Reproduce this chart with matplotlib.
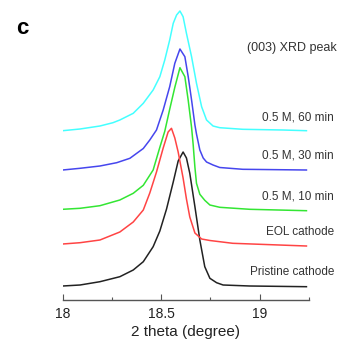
import matplotlib
matplotlib.use('Agg')
import matplotlib.pyplot as plt
from matplotlib.ticker import MultipleLocator

plt.rcParams['font.family'] = ['Liberation Sans', 'DejaVu Sans']

# intensities above each curve's own baseline (a.u.)
x_pristine = [18.000, 18.088, 18.189, 18.290, 18.358, 18.409, 18.459, 18.493, 18.527, 18.561,
              18.586, 18.611, 18.628, 18.645, 18.671, 18.696, 18.721, 18.747, 18.781, 18.814,
              18.949, 19.237]
y_pristine = [0, 1, 4.3, 9.3, 16, 24.3, 39.3, 55, 77, 104,
              125, 134, 128, 112.7, 79.3, 46, 19.3, 7.7, 3.3, 1,
              0, -0.7]

x_eol = [18.000, 18.088, 18.189, 18.290, 18.358, 18.409, 18.442, 18.476, 18.510, 18.535,
         18.552, 18.569, 18.586, 18.611, 18.628, 18.645, 18.671, 18.705, 18.747, 18.863,
         19.237]
y_eol = [0, 1.3, 4, 12, 22, 34, 51, 72, 96, 112,
         115.7, 106, 92, 66, 45, 27, 11, 5, 3.5, 0.7,
         -2]

x_10 = [18.000, 18.088, 18.189, 18.290, 18.358, 18.409, 18.459, 18.493, 18.518, 18.543,
        18.569, 18.595, 18.620, 18.637, 18.654, 18.662, 18.671, 18.679, 18.696, 18.721,
        18.747, 18.797, 18.949, 19.237]
y_10 = [0, 1, 3.6, 9.3, 16, 24, 39.3, 62, 78, 100,
        122, 141.6, 132.6, 109, 82, 65, 42, 26, 15, 9,
        4.3, 2, 0, -1.4]

x_30 = [18.000, 18.088, 18.189, 18.274, 18.341, 18.409, 18.442, 18.476, 18.510, 18.543,
        18.569, 18.595, 18.620, 18.637, 18.654, 18.671, 18.679, 18.696, 18.713, 18.730,
        18.763, 18.797, 18.914, 19.237]
y_30 = [0, 1.7, 4, 7.3, 11.7, 21.5, 30, 40, 60, 83.3,
        106.7, 121, 113.3, 93.3, 70, 45, 36, 20, 12, 8,
        5, 2.5, 0.7, 0]

x_60 = [18.000, 18.088, 18.189, 18.255, 18.290, 18.358, 18.409, 18.459, 18.493, 18.518,
        18.543, 18.561, 18.578, 18.595, 18.611, 18.628, 18.654, 18.679, 18.705, 18.730,
        18.763, 18.797, 18.914, 19.117, 19.237]
y_60 = [0, 1.7, 4.7, 8, 10.7, 17.4, 27.4, 40.7, 54, 70.7,
        90.7, 107.4, 115.7, 119.7, 114, 97.4, 74, 47.4, 24, 10.7,
        4.7, 3, 1.4, 0.7, 0]

offsets = [14, 56, 90.7, 130, 169.3]
labels = ['Pristine cathode', 'EOL cathode', '0.5 M, 10 min', '0.5 M, 30 min', '0.5 M, 60 min']
colors = ['#222222', '#ff4444', '#33e633', '#4646ee', '#44ffff']
label_y = [271.7, 232, 196.7, 155, 118]   # pixel rows of the labels

xs = [x_pristine, x_eol, x_10, x_30, x_60]
ys = [y_pristine, y_eol, y_10, y_30, y_60]

fig = plt.figure(figsize=(3.41, 3.45), dpi=100)
ax = fig.add_axes([62.7/341, 45/345, 246.3/341, 300/345])

for x, y, off, c in zip(xs, ys, offsets, colors):
    ax.plot(x, [v + off for v in y], color=c, lw=1.1)

ax.set_xlim(18, 19.25)
ax.set_ylim(0, 300)
for s in ['top', 'left', 'right']:
    ax.spines[s].set_visible(False)
ax.spines['bottom'].set_color('#555555')
ax.spines['bottom'].set_linewidth(1.0)
ax.set_yticks([])
ax.xaxis.set_minor_locator(MultipleLocator(0.25))
ax.set_xticks([18, 18.5, 19])
ax.set_xticklabels(['18', '18.5', '19'])
ax.tick_params(axis='x', which='major', direction='in', length=4, width=0.8,
               color='#555555', labelsize=10, pad=5, labelcolor='#222222')
ax.tick_params(axis='x', which='minor', direction='in', length=2.5, width=0.8, color='#555555')
ax.set_xlabel('2 theta (degree)', fontsize=11, color='#222222', labelpad=3)

for lab, py in zip(labels, label_y):
    fig.text(334/341, 1 - py/345, lab, ha='right', va='center', fontsize=8.5, color='#333333')
fig.text(337/341, 1 - 48/345, '(003) XRD peak', ha='right', va='center', fontsize=9, color='#333333')
fig.text(22/341, 1 - 29/345, 'c', ha='center', va='center', fontsize=16, fontweight='bold')

fig.savefig('out.png', dpi=100)
